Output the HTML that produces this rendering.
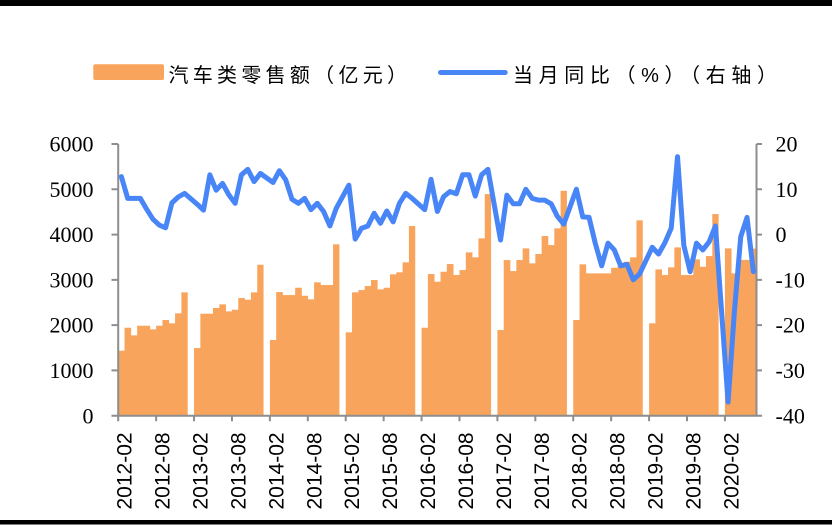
<!DOCTYPE html>
<html><head><meta charset="utf-8"><style>html,body{margin:0;padding:0;background:#fff}svg{display:block}</style></head>
<body>
<svg width="832" height="528" viewBox="0 0 832 528" xmlns="http://www.w3.org/2000/svg">
<rect width="832" height="528" fill="#fff"/>
<rect x="0" y="0" width="832" height="6" fill="#000"/>
<rect x="0" y="520" width="832" height="4.5" fill="#000"/>

<!-- legend -->
<rect x="93.3" y="64.3" width="70.7" height="15.7" rx="2" fill="#F8A45C"/>
<text x="168.5" y="82" font-family="'Liberation Sans','Noto Sans CJK SC',sans-serif" font-size="20" textLength="238.5" lengthAdjust="spacing" fill="#000">汽车类零售额（亿元）</text>
<line x1="440.5" y1="72.5" x2="505.2" y2="72.5" stroke="#4885F7" stroke-width="5" stroke-linecap="round"/>
<text x="513" y="82" font-family="'Liberation Sans','Noto Sans CJK SC',sans-serif" font-size="20" textLength="264" lengthAdjust="spacing" fill="#000">当月同比（%）（右轴）</text>

<!-- bars -->
<g transform="translate(118.2,415.7) scale(6.32,-0.0452833)" fill="#F8A45C">
<rect x="0" width="1.05" height="1435"/><rect x="1" width="1.05" height="1943"/><rect x="2" width="1.05" height="1774"/><rect x="3" width="1.05" height="1987"/><rect x="4" width="1.05" height="1987"/><rect x="5" width="1.05" height="1907"/><rect x="6" width="1.05" height="1987"/><rect x="7" width="1.05" height="2113"/><rect x="8" width="1.05" height="2040"/><rect x="9" width="1.05" height="2260"/><rect x="10" width="1" height="2724"/>
<rect x="12" width="1.05" height="1494"/><rect x="13" width="1.05" height="2252"/><rect x="14" width="1.05" height="2252"/><rect x="15" width="1.05" height="2378"/><rect x="16" width="1.05" height="2459"/><rect x="17" width="1.05" height="2304"/><rect x="18" width="1.05" height="2340"/><rect x="19" width="1.05" height="2598"/><rect x="20" width="1.05" height="2561"/><rect x="21" width="1.05" height="2724"/><rect x="22" width="1" height="3333"/>
<rect x="24" width="1.05" height="1671"/><rect x="25" width="1.05" height="2730"/><rect x="26" width="1.05" height="2664"/><rect x="27" width="1.05" height="2664"/><rect x="28" width="1.05" height="2826"/><rect x="29" width="1.05" height="2649"/><rect x="30" width="1.05" height="2569"/><rect x="31" width="1.05" height="2945"/><rect x="32" width="1.05" height="2885"/><rect x="33" width="1.05" height="2885"/><rect x="34" width="1" height="3784"/>
<rect x="36" width="1.05" height="1841"/><rect x="37" width="1.05" height="2724"/><rect x="38" width="1.05" height="2775"/><rect x="39" width="1.05" height="2863"/><rect x="40" width="1.05" height="2996"/><rect x="41" width="1.05" height="2790"/><rect x="42" width="1.05" height="2826"/><rect x="43" width="1.05" height="3121"/><rect x="44" width="1.05" height="3166"/><rect x="45" width="1.05" height="3386"/><rect x="46" width="1" height="4188"/>
<rect x="48" width="1.05" height="1943"/><rect x="49" width="1.05" height="3128"/><rect x="50" width="1.05" height="2958"/><rect x="51" width="1.05" height="3179"/><rect x="52" width="1.05" height="3349"/><rect x="53" width="1.05" height="3106"/><rect x="54" width="1.05" height="3216"/><rect x="55" width="1.05" height="3607"/><rect x="56" width="1.05" height="3497"/><rect x="57" width="1.05" height="3916"/><rect x="58" width="1" height="4894"/>
<rect x="60" width="1.05" height="1892"/><rect x="61" width="1.05" height="3437"/><rect x="62" width="1.05" height="3194"/><rect x="63" width="1.05" height="3437"/><rect x="64" width="1.05" height="3695"/><rect x="65" width="1.05" height="3364"/><rect x="66" width="1.05" height="3570"/><rect x="67" width="1.05" height="3967"/><rect x="68" width="1.05" height="3768"/><rect x="69" width="1.05" height="4137"/><rect x="70" width="1" height="4967"/>
<rect x="72" width="1.05" height="2113"/><rect x="73" width="1.05" height="3342"/><rect x="74" width="1.05" height="3143"/><rect x="75" width="1.05" height="3143"/><rect x="76" width="1.05" height="3143"/><rect x="77" width="1.05" height="3143"/><rect x="78" width="1.05" height="3267"/><rect x="79" width="1.05" height="3300"/><rect x="80" width="1.05" height="3400"/><rect x="81" width="1.05" height="3497"/><rect x="82" width="1" height="4314"/>
<rect x="84" width="1.05" height="2040"/><rect x="85" width="1.05" height="3231"/><rect x="86" width="1.05" height="3106"/><rect x="87" width="1.05" height="3275"/><rect x="88" width="1.05" height="3717"/><rect x="89" width="1.05" height="3106"/><rect x="90" width="1.05" height="3106"/><rect x="91" width="1.05" height="3452"/><rect x="92" width="1.05" height="3289"/><rect x="93" width="1.05" height="3525"/><rect x="94" width="1" height="4452"/>
<rect x="96" width="1.05" height="3695"/><rect x="97" width="1.05" height="3143"/><rect x="98" width="1.05" height="3440"/><rect x="99" width="1.05" height="3440"/><rect x="100" width="1" height="3690"/>
</g>

<!-- axes -->
<g stroke="#8E8E8E" stroke-width="2" fill="none">
<path d="M118.2,144V415.7H756.5V144"/>
<path d="M111.5,144H118.2M111.5,189.28H118.2M111.5,234.57H118.2M111.5,279.85H118.2M111.5,325.13H118.2M111.5,370.42H118.2M111.5,415.7H118.2"/>
<path d="M756.5,144H762M756.5,189.28H762M756.5,234.57H762M756.5,279.85H762M756.5,325.13H762M756.5,370.42H762M756.5,415.7H762"/>
<path d="M118.2,415.7v5.5M156.12,415.7v5.5M194.04,415.7v5.5M231.96,415.7v5.5M269.88,415.7v5.5M307.8,415.7v5.5M345.72,415.7v5.5M383.64,415.7v5.5M421.56,415.7v5.5M459.48,415.7v5.5M497.4,415.7v5.5M535.32,415.7v5.5M573.24,415.7v5.5M611.16,415.7v5.5M649.08,415.7v5.5M687,415.7v5.5M724.92,415.7v5.5"/>
</g>

<!-- line -->
<g transform="translate(121.36,234.57) scale(6.32,-4.5283)">
<polyline fill="none" stroke="#4885F7" stroke-width="5" vector-effect="non-scaling-stroke" stroke-linejoin="round" stroke-linecap="round" points="0,12.8 1,8 2,8 3,8 4,5.6 5,3.4 6,2.1 7,1.5 8,7 9,8.3 10,9.1 12,6.7 13,5.4 14,13.2 15,9.8 16,11.3 17,8.8 18,6.9 19,13.2 20,14.4 21,11.7 22,13.5 24,11.5 25,14.1 26,12.1 27,7.8 28,6.9 29,8 30,5.5 31,6.9 32,5.1 33,1.9 34,5.8 36,10.9 37,-1 38,1.4 39,1.9 40,4.7 41,2.5 42,5.2 43,2.8 44,6.9 45,9.1 46,8 48,5.5 49,12.2 50,5.1 51,8.4 52,9.5 53,9 54,13.2 55,13.2 56,8.5 57,13.2 58,14.4 60,-1.2 61,8.7 62,6.8 63,6.8 64,10 65,8 66,7.6 67,7.6 68,6.8 69,4 70,2.3 72,10 73,3.9 74,3.8 75,-2 76,-6.9 77,-1.9 78,-3.4 79,-6.9 80,-6.6 81,-10 82,-8.7 84,-2.8 85,-4.3 86,-1.8 87,1.4 88,17.2 89,-2.4 90,-8.2 91,-1.9 92,-3.4 93,-1.6 94,1.9 96,-37 97,-17 98,-0.5 99,3.8 100,-8.2"/>
</g>

<!-- left axis labels -->
<g font-family="'Liberation Serif',serif" font-size="22" fill="#000" text-anchor="end">
<text x="93.5" y="151.6">6000</text>
<text x="93.5" y="196.9">5000</text>
<text x="93.5" y="242.2">4000</text>
<text x="93.5" y="287.4">3000</text>
<text x="93.5" y="332.7">2000</text>
<text x="93.5" y="378">1000</text>
<text x="93.5" y="423.3">0</text>
</g>
<!-- right axis labels -->
<g font-family="'Liberation Serif',serif" font-size="22" fill="#000">
<text x="775.5" y="151.6">20</text>
<text x="775.5" y="196.9">10</text>
<text x="775.5" y="242.2">0</text>
<text x="775.5" y="287.4">-10</text>
<text x="775.5" y="332.7">-20</text>
<text x="775.5" y="378">-30</text>
<text x="775.5" y="423.3">-40</text>
</g>

<!-- bottom labels -->
<g font-family="'Liberation Sans',sans-serif" font-size="21" fill="#000">
<text transform="translate(131.7,509.5) rotate(-90)">2012-02</text>
<text transform="translate(169.62,509.5) rotate(-90)">2012-08</text>
<text transform="translate(207.54,509.5) rotate(-90)">2013-02</text>
<text transform="translate(245.46,509.5) rotate(-90)">2013-08</text>
<text transform="translate(283.38,509.5) rotate(-90)">2014-02</text>
<text transform="translate(321.3,509.5) rotate(-90)">2014-08</text>
<text transform="translate(359.22,509.5) rotate(-90)">2015-02</text>
<text transform="translate(397.14,509.5) rotate(-90)">2015-08</text>
<text transform="translate(435.06,509.5) rotate(-90)">2016-02</text>
<text transform="translate(472.98,509.5) rotate(-90)">2016-08</text>
<text transform="translate(510.9,509.5) rotate(-90)">2017-02</text>
<text transform="translate(548.82,509.5) rotate(-90)">2017-08</text>
<text transform="translate(586.74,509.5) rotate(-90)">2018-02</text>
<text transform="translate(624.66,509.5) rotate(-90)">2018-08</text>
<text transform="translate(662.58,509.5) rotate(-90)">2019-02</text>
<text transform="translate(700.5,509.5) rotate(-90)">2019-08</text>
<text transform="translate(738.42,509.5) rotate(-90)">2020-02</text>
</g>
</svg>
</body></html>
